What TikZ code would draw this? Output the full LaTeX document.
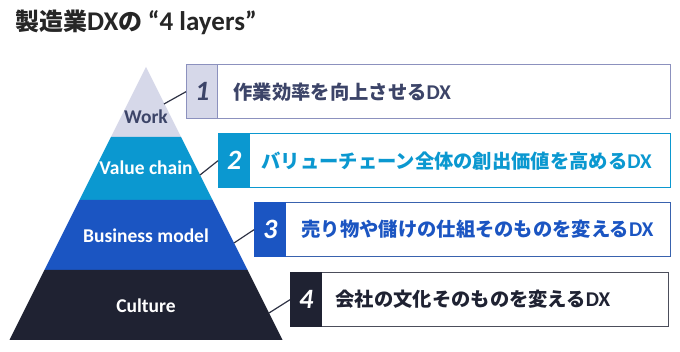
\documentclass[tikz,border=0pt]{standalone}
\usepackage{fontspec}
\setmainfont{Carlito}
\newfontfamily\jp{Noto Sans CJK JP}
\definecolor{workfill}{HTML}{D6D8E9}
\definecolor{workline}{HTML}{8C91BE}
\definecolor{worktext}{HTML}{3C4468}
\definecolor{valuefill}{HTML}{0B98D0}
\definecolor{bizfill}{HTML}{1B55C2}
\definecolor{culturefill}{HTML}{1F2232}
\definecolor{conncolor}{HTML}{2E3244}
\begin{document}
\begin{tikzpicture}[x=1pt, y=-1pt,
  box/.style={draw, line width=1.4pt, fill=white, anchor=north west, minimum width=#1, minimum height=54pt, inner sep=0pt},
  numcell/.style={draw, line width=1.4pt, anchor=west, minimum width=31pt, minimum height=54pt, inner sep=0pt, font=\bfseries\itshape\fontsize{28}{28}\selectfont},
  textcell/.style={anchor=west, inner sep=0pt, font=\jp\bfseries\fontsize{19.3}{20}\selectfont},
  layername/.style={font=\bfseries\fontsize{19.5}{20}\selectfont, text=white},
  conn/.style={draw=conncolor, line width=1.2pt}]
  \useasboundingbox (0,0) rectangle (680,352);

  % title
  \node[anchor=west, inner sep=0pt, text=black!85, font=\jp\bfseries\fontsize{24}{26}\selectfont] (title) at (15,22) {製造業{\rmfamily\bfseries\fontsize{27}{27}\selectfont DX}の\ {\rmfamily\bfseries\fontsize{27}{27}\selectfont “4 layers”}};

  % pyramid
  \fill[workfill] (146,67) -- (181,137) -- (111,137) -- cycle;
  \fill[valuefill] (111,137) -- (181,137) -- (212.5,200) -- (79.5,200) -- cycle;
  \fill[bizfill] (79.5,200) -- (212.5,200) -- (247.5,270) -- (44.5,270) -- cycle;
  \fill[culturefill] (44.5,270) -- (247.5,270) -- (282.5,340) -- (9.5,340) -- cycle;

  \node[layername, text=worktext] (work) at (146,117) {Work};
  \node[layername] (value) at (146,168) {Value chain};
  \node[layername] (biz) at (146,236) {Business model};
  \node[layername] (culture) at (146,306) {Culture};

  % edge points
  \coordinate (e1) at (164,104);
  \coordinate (e2) at (200,175);
  \coordinate (e3) at (234,243);
  \coordinate (e4) at (269,313);

  % boxes
  \node[box=484pt, draw=workline] (box1) at (186,64) {};
  \node[numcell, draw=workline, fill=workfill, text=worktext] (n1) at (box1.west) {1};
  \node[textcell, text=worktext] (t1) at ([xshift=15pt]n1.east) {作業効率を向上させる{\rmfamily\bfseries\fontsize{21}{21}\selectfont DX}};

  \node[box=452pt, draw=valuefill] (box2) at (218,133) {};
  \node[numcell, draw=valuefill, fill=valuefill, text=white] (n2) at (box2.west) {2};
  \node[textcell, text=valuefill] (t2) at ([xshift=11pt]n2.east) {バリューチェーン全体の創出価値を高める{\rmfamily\bfseries\fontsize{21}{21}\selectfont DX}};

  \node[box=416pt, draw=bizfill!70!gray] (box3) at (254,202) {};
  \node[numcell, draw=bizfill, fill=bizfill, text=white] (n3) at (box3.west) {3};
  \node[textcell, text=bizfill] (t3) at ([xshift=15pt]n3.east) {売り物や儲けの仕組そのものを変える{\rmfamily\bfseries\fontsize{21}{21}\selectfont DX}};

  \node[box=378pt, draw=culturefill!80!white] (box4) at (290,272) {};
  \node[numcell, draw=culturefill, fill=culturefill, text=white] (n4) at (box4.west) {4};
  \node[textcell, text=culturefill] (t4) at ([xshift=13pt]n4.east) {会社の文化そのものを変える{\rmfamily\bfseries\fontsize{21}{21}\selectfont DX}};

  % connectors
  \draw[conn] (e1) -- (box1.west);
  \draw[conn] (e2) -- (box2.west);
  \draw[conn] (e3) -- (box3.west);
  \draw[conn] (e4) -- (box4.west);
\end{tikzpicture}
\end{document}
